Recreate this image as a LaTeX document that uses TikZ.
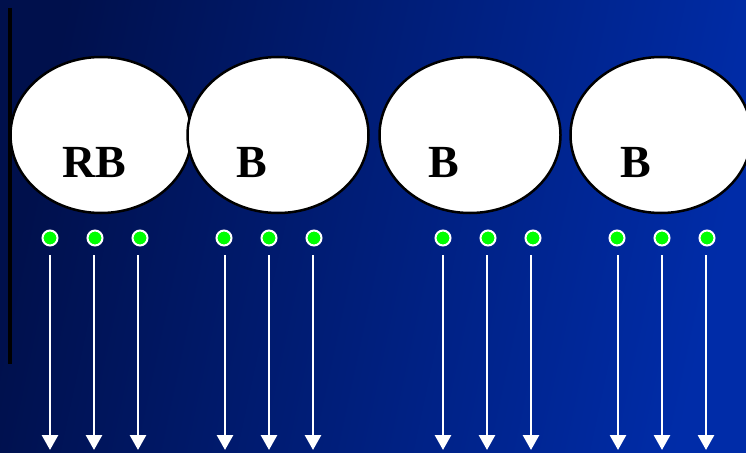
\documentclass[tikz,border=0pt]{standalone}
\usepackage{fontspec}
\setmainfont{Liberation Serif}
\usetikzlibrary{shapes.geometric,arrows.meta}
\definecolor{bgdark}{HTML}{00104C}
\definecolor{bgbright}{HTML}{002CA8}
\definecolor{dotgreen}{HTML}{00FF00}
\tikzset{
  cell/.style={ellipse,draw=black,fill=white,line width=2.5pt,inner sep=0pt,minimum width=181pt,minimum height=156pt},
  lbl/.style={font=\fontsize{46}{55}\selectfont\bfseries,text=black,anchor=base,inner sep=0pt},
  spot/.style={circle,fill=dotgreen,draw=white,line width=2pt,minimum size=15pt,inner sep=0pt},
  ray/.style={draw=white,line width=2.8pt,-{Triangle[width=16pt,length=15pt]}}
}
\begin{document}
\begin{tikzpicture}[x=1pt,y=-1pt]
\useasboundingbox (0,0) rectangle (746,452);
\shade[shading=axis,top color=bgdark,bottom color=bgbright,shading angle=78] (0,0) rectangle (746,452);
\draw[line width=4pt,black] (10,8) -- (10,364);
% ellipses
\node[cell] (e1) at (101,135) {};
\node[cell] (e2) at (278,135) {};
\node[cell] (e3) at (470,135) {};
\node[cell] (e4) at (661,135) {};
\node[lbl] (t1) at (94,177) {RB};
\node[lbl] (t2) at (252,177) {B};
\node[lbl] (t3) at (444,177) {B};
\node[lbl] (t4) at (636,177) {B};
% dots and arrows
\foreach \i/\dx/\ax in {1/50/50,2/95/94,3/140/138,4/224/225,5/269/269,6/314/313,7/443/443,8/488/487,9/533/531,10/617/618,11/662/662,12/707/706}{
  \node[spot] (d\i) at (\dx,238) {};
  \coordinate (s\i) at (\ax,255);
  \coordinate (f\i) at (\ax,450);
  \draw[ray] (s\i) -- (f\i);
}
\end{tikzpicture}
\end{document}
